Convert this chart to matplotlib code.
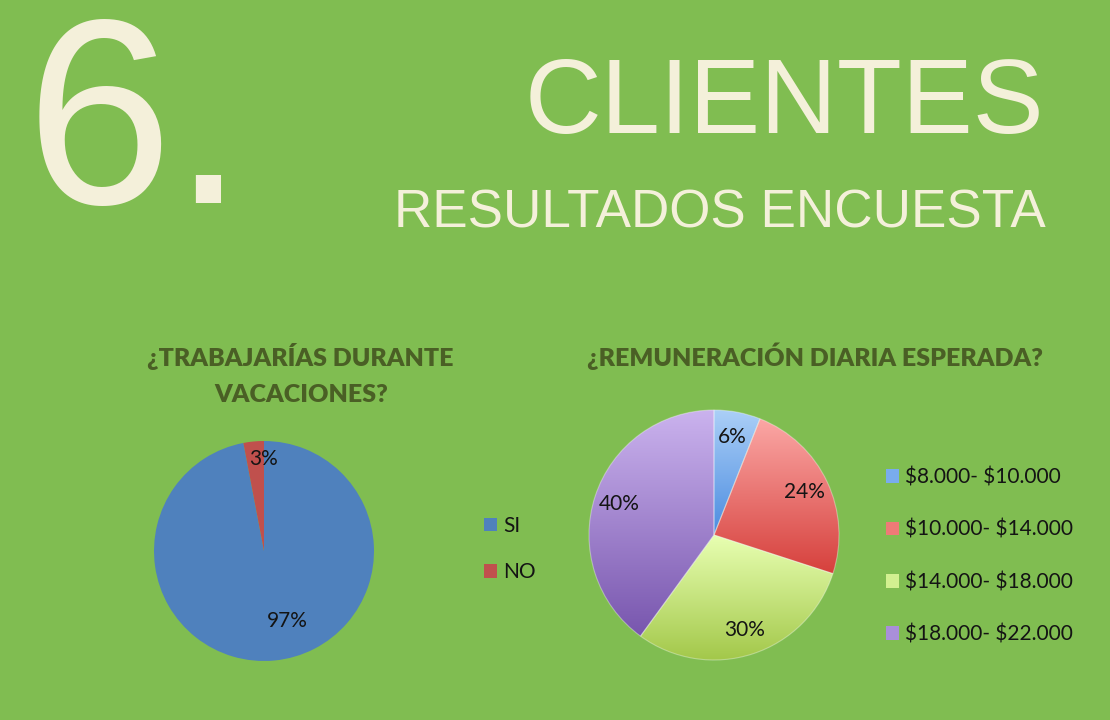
import matplotlib
matplotlib.use('Agg')
import matplotlib.pyplot as plt
from matplotlib.colors import LinearSegmentedColormap
from matplotlib.patches import Patch
import numpy as np

# los signos $ de las etiquetas no son mathtext
plt.rcParams['text.parse_math'] = False

# pregunta 1: trabajarias durante vacaciones
trabajo_labels = ['SI', 'NO']
trabajo_vals = [97, 3]
trabajo_colors = ['#4f81bd', '#c0504d']

# pregunta 2: remuneracion diaria esperada
pago_labels = ['$8.000- $10.000', '$10.000- $14.000', '$14.000- $18.000', '$18.000- $22.000']
pago_vals = [6, 24, 30, 40]
pago_top = ['#abcff7', '#fba7a5', '#e8ffb2', '#cbb3ee']
pago_bottom = ['#4b8ce0', '#d6403c', '#a3c84a', '#7856ae']
pago_legend = ['#79aced', '#ee7a77', '#d2f090', '#a98fd9']

W, H = 1110, 720
BG = '#80bd51'
CREAM = '#f4f0da'
TITLE = '#4a5f25'
TXT = '#141414'
LBL_FONT = 'Lato'

fig = plt.figure(figsize=(W / 100, H / 100), dpi=100, facecolor=BG)


def fx(x):
    return x / W


def fy(y):
    return 1 - y / H


def pie_axes(cx, cy, r):
    ax = fig.add_axes([fx(cx - r), fy(cy + r), 2 * r / W, 2 * r / H])
    ax.set_facecolor('none')
    return ax


def gradient_fill(ax, wedge, top, bottom):
    bb = wedge.get_path().get_extents()
    cmap = LinearSegmentedColormap.from_list('g', [bottom, top])
    grad = np.linspace(0, 1, 256).reshape(-1, 1)
    im = ax.imshow(grad, cmap=cmap, origin='lower', aspect='auto',
                   extent=[bb.x0, bb.x1, bb.y0, bb.y1], zorder=1,
                   interpolation='bilinear')
    im.set_clip_path(wedge)


# encabezado
fig.text(fx(26), fy(203), '6.', fontsize=190, color=CREAM,
         family='Liberation Sans', va='baseline', ha='left')
fig.text(fx(1044), fy(133), 'CLIENTES', fontsize=76.5, color=CREAM,
         family='Liberation Sans', va='baseline', ha='right')
fig.text(fx(1046), fy(228), 'RESULTADOS ENCUESTA', fontsize=38.2, color=CREAM,
         family='Liberation Sans', va='baseline', ha='right')

# titulos de los graficos
tkw = dict(fontsize=18, color=TITLE, family=LBL_FONT, fontweight='heavy',
           ha='center', va='baseline')
fig.text(fx(300), fy(366), '¿TRABAJARÍAS DURANTE', **tkw)
fig.text(fx(301), fy(402), 'VACACIONES?', **tkw)
fig.text(fx(815), fy(366), '¿REMUNERACIÓN DIARIA ESPERADA?', **tkw)

# pie izquierdo
ax1 = pie_axes(264, 551, 110)
w1, _, t1 = ax1.pie(trabajo_vals, colors=trabajo_colors, startangle=90,
                    counterclock=False, autopct='%1.0f%%', pctdistance=0.84,
                    wedgeprops=dict(linewidth=0),
                    textprops=dict(fontsize=15, color=TXT, family=LBL_FONT))
# office coloca la etiqueta grande mas adentro
t1[0].set_position((0.21, -0.64))
t1[1].set_position((0.0, 0.84))
ax1.set_xlim(-1, 1)
ax1.set_ylim(-1, 1)
ax1.set_aspect('equal')
ax1.axis('off')

h1 = [Patch(facecolor=c, edgecolor='none') for c in trabajo_colors]
fig.legend(h1, trabajo_labels, loc='center left',
           bbox_to_anchor=(fx(484), fy(549)), bbox_transform=fig.transFigure,
           frameon=False, borderpad=0, borderaxespad=0,
           handlelength=0.63, handleheight=0.63, handletextpad=0.3,
           labelspacing=1.25, prop=dict(family=LBL_FONT, size=15),
           labelcolor=TXT)

# pie derecho con degradado
ax2 = pie_axes(714, 535, 125)
w2, _, t2 = ax2.pie(pago_vals, colors=pago_legend, startangle=90,
                    counterclock=False, autopct='%1.0f%%', pctdistance=0.8,
                    wedgeprops=dict(linewidth=0.8, edgecolor=(1, 1, 1, 0.35)),
                    textprops=dict(fontsize=15, color=TXT, family=LBL_FONT))
for w, top, bot in zip(w2, pago_top, pago_bottom):
    w.set_facecolor('none')
    w.set_zorder(2)
    gradient_fill(ax2, w, top, bot)
for t in t2:
    t.set_zorder(4)
ax2.set_xlim(-1, 1)
ax2.set_ylim(-1, 1)
ax2.set_aspect('equal')
ax2.axis('off')

h2 = [Patch(facecolor=c, edgecolor='none') for c in pago_legend]
fig.legend(h2, pago_labels, loc='center left',
           bbox_to_anchor=(fx(886), fy(556)), bbox_transform=fig.transFigure,
           frameon=False, borderpad=0, borderaxespad=0,
           handlelength=0.63, handleheight=0.63, handletextpad=0.3,
           labelspacing=1.55, prop=dict(family=LBL_FONT, size=15),
           labelcolor=TXT)

fig.savefig('out.png', dpi=100, facecolor=BG)
